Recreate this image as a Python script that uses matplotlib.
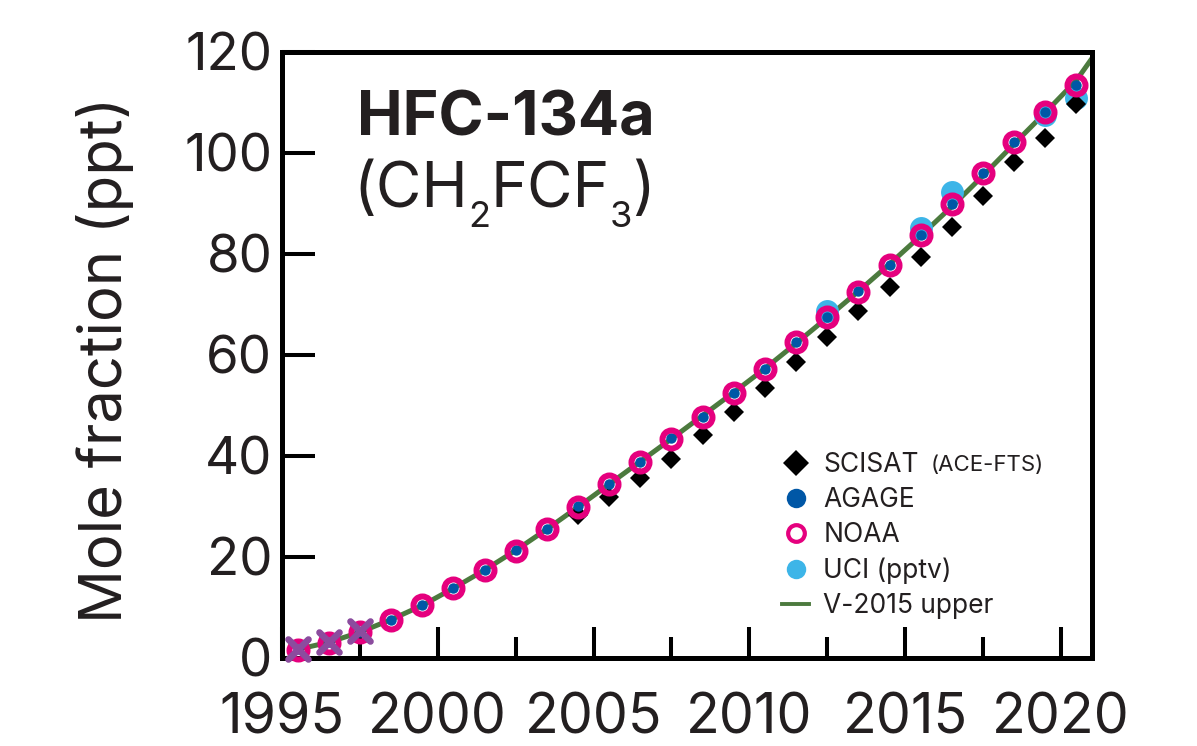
import matplotlib.pyplot as plt
from matplotlib.lines import Line2D
from matplotlib.markers import MarkerStyle
from matplotlib.ticker import MultipleLocator

plt.rcParams['font.family'] = ['Inter', 'DejaVu Sans']

# annual means, plotted at mid-year
years = [1995.5, 1996.5, 1997.5, 1998.5, 1999.5, 2000.5, 2001.5, 2002.5,
         2003.5, 2004.5, 2005.5, 2006.5, 2007.5, 2008.5, 2009.5, 2010.5,
         2011.5, 2012.5, 2013.5, 2014.5, 2015.5, 2016.5, 2017.5, 2018.5,
         2019.5, 2020.5]
noaa = [1.6, 3.0, 5.1, 7.5, 10.5, 13.9, 17.4, 21.2, 25.5, 29.9, 34.5, 38.8,
        43.4, 47.7, 52.5, 57.2, 62.6, 67.5, 72.5, 77.8, 83.7, 89.9, 96.0,
        102.2, 108.1, 113.5]
agage = [1.7, 3.1, 5.2, 7.6, 10.5, 13.9, 17.4, 21.3, 25.5, 30.0, 34.5, 38.9,
         43.5, 47.8, 52.5, 57.3, 62.6, 67.5, 72.6, 77.9, 83.7, 89.9, 96.0,
         102.2, 108.1, 113.5]

scisat_years = [2004.5, 2005.5, 2006.5, 2007.5, 2008.5, 2009.5, 2010.5,
                2011.5, 2012.5, 2013.5, 2014.5, 2015.5, 2016.5, 2017.5,
                2018.5, 2019.5, 2020.5]
scisat = [28.3, 31.9, 35.6, 39.4, 44.2, 48.8, 53.4, 58.7, 63.6, 68.8, 73.4,
          79.5, 85.4, 91.5, 98.3, 102.9, 109.8]

uci_years = [2012.5, 2015.5, 2016.5, 2019.5, 2020.5]
uci = [68.8, 85.2, 92.2, 107.6, 110.8]

early_years = [1995.5, 1996.5, 1997.5]
early = [1.8, 3.2, 5.4]

scen_years = [1995.5, 1996.5, 1997.5, 1998.5, 1999.5, 2000.5, 2001.5, 2002.5,
              2003.5, 2004.5, 2005.5, 2006.5, 2007.5, 2008.5, 2009.5, 2010.5,
              2011.5, 2012.5, 2013.5, 2014.5, 2015.5, 2016.5, 2017.5, 2018.5,
              2019.5, 2020.5, 2021.2]
scen = [1.7, 3.1, 5.1, 7.6, 10.4, 13.8, 17.4, 21.3, 25.5, 29.9, 34.4, 38.9,
        43.4, 48.0, 52.6, 57.3, 62.3, 67.4, 72.6, 78.0, 83.6, 89.4, 95.5,
        101.8, 108.0, 114.4, 120.5]

c_text = '#231f20'
c_noaa = '#e5007e'
c_agage = '#0057a6'
c_uci = '#3db5e8'
c_scen = '#4c7a3e'
c_early = '#8b4c9e'

fig = plt.figure(figsize=(11.97, 7.46), dpi=100)
ax = fig.add_axes([0.2356, 0.1180, 0.6767, 0.8123])

ax.plot(scen_years, scen, color=c_scen, lw=3.6, zorder=2)
ax.plot(uci_years, uci, 'o', color=c_uci, ms=16.5, mew=0, zorder=3, clip_on=False)
ax.plot(scisat_years, scisat, 'D', color='black', ms=10, mew=0, zorder=4, clip_on=False)
ax.plot(years, agage, 'o', color=c_agage, ms=7.5, mew=0, zorder=5, clip_on=False)
ax.plot(years, noaa, 'o', mfc='none', mec=c_noaa, ms=13, mew=4.3, zorder=6, clip_on=False)
ax.plot(early_years, early, linestyle='none', color=c_early, ms=14, mew=4.8,
        marker=MarkerStyle('x', capstyle='round'), zorder=7, clip_on=False)

ax.set_xlim(1995, 2021)
ax.set_ylim(0, 120)
ax.xaxis.set_major_locator(MultipleLocator(5))
ax.xaxis.set_minor_locator(MultipleLocator(2.5))
ax.yaxis.set_major_locator(MultipleLocator(20))

for s in ax.spines.values():
    s.set_linewidth(3.6)
    s.set_capstyle('projecting')
ax.tick_params(axis='x', which='major', direction='in', length=22, width=2.9,
               labelsize=40, pad=25, top=False, labelcolor=c_text)
ax.tick_params(axis='x', which='minor', direction='in', length=15, width=2.9, top=False)
ax.tick_params(axis='y', which='major', direction='in', length=24, width=2.9,
               labelsize=38, pad=7, right=False, labelcolor=c_text)

ax.set_ylabel('Mole fraction (ppt)', fontsize=43, color=c_text, va='center')
ax.yaxis.set_label_coords(-0.219, 0.492)

ax.text(0.093, 0.863, 'HFC-134a', transform=ax.transAxes, fontsize=44,
        fontweight='bold', color=c_text, ha='left', va='baseline')

# formula built piece by piece so the subscripts sit fully below the baseline
big, small, drop = 45, 26, -10
t = ax.text(0.088, 0.744, '(CH', transform=ax.transAxes, fontsize=big,
            color=c_text, ha='left', va='baseline')
for piece, size, dy in [('2', small, drop), ('FCF', big, -drop),
                        ('3', small, drop), (')', big, -drop)]:
    t = ax.annotate(piece, xy=(1, 0), xycoords=t, xytext=(0, dy),
                    textcoords='offset points', fontsize=size, color=c_text,
                    ha='left', va='bottom')

handles = [
    Line2D([], [], ls='none', marker='D', color='black', ms=13, mew=0),
    Line2D([], [], ls='none', marker='o', color=c_agage, ms=14, mew=0),
    Line2D([], [], ls='none', marker='o', mfc='white', mec=c_noaa, ms=12, mew=3),
    Line2D([], [], ls='none', marker='o', color=c_uci, ms=14, mew=0),
    Line2D([], [], color=c_scen, lw=2.8),
]
labels = ['SCISAT', 'AGAGE', 'NOAA', 'UCI (pptv)', 'V-2015 upper']
leg = ax.legend(handles, labels, loc='upper left', bbox_to_anchor=(0.617, 0.340),
                frameon=False, fontsize=19, handlelength=1.05, handletextpad=0.53,
                labelspacing=0.35, borderpad=0, borderaxespad=0)
for txt in leg.get_texts():
    txt.set_color(c_text)
ax.text(0.801, 0.309, '(ACE-FTS)', transform=ax.transAxes, fontsize=16,
        color=c_text, ha='left', va='baseline')

fig.savefig('out.png', dpi=100)
